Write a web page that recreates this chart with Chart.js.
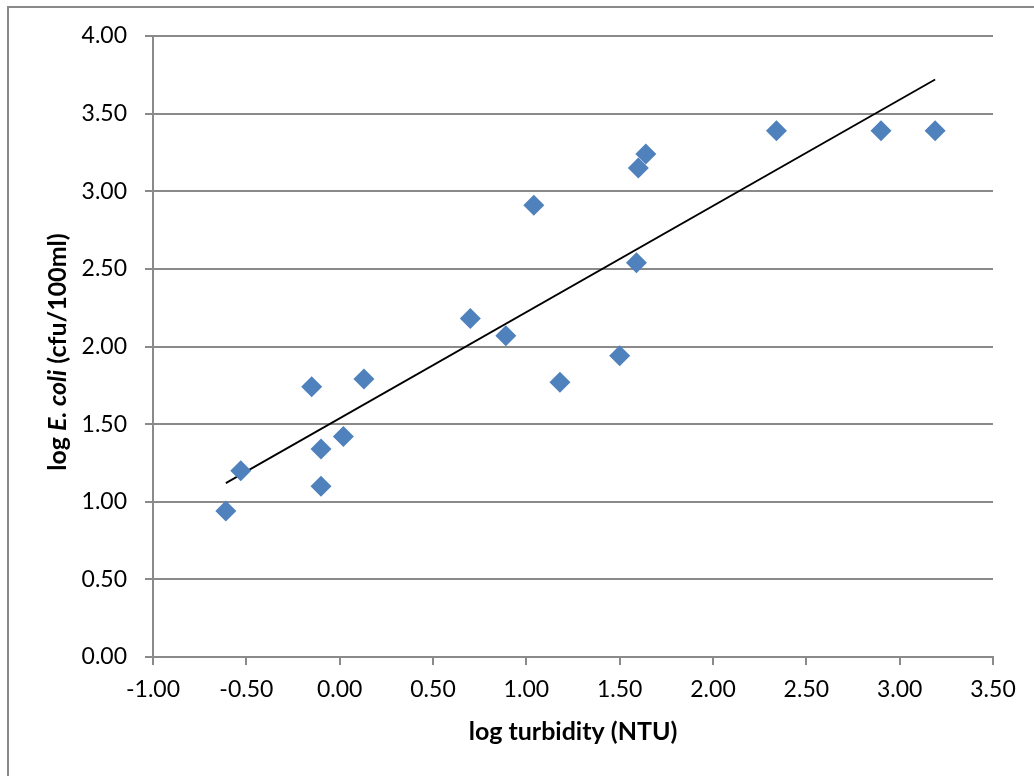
<!DOCTYPE html>
<html>
<head>
<meta charset="utf-8">
<script src="https://cdn.jsdelivr.net/npm/chart.js@4/dist/chart.umd.min.js"></script>
<style>
  html, body { margin: 0; padding: 0; background: #fff; }
  #wrap { position: relative; width: 1034px; height: 776px; overflow: hidden; }
  #frame { position: absolute; left: 7px; top: 6px; width: 1100px; height: 900px;
           border: 2px solid #8a8a8a; box-sizing: border-box; }
  canvas { position: absolute; left: 0; top: 0; }
</style>
</head>
<body>
<div id="wrap">
  <div id="frame"></div>
  <canvas id="chart" width="1034" height="776"></canvas>
</div>
<script>
// log turbidity (NTU) vs log E. coli (cfu/100ml)
const turbidity = [-0.61, -0.53, -0.15, -0.10, -0.10, 0.02, 0.13, 0.70, 0.89, 1.04,
  1.18, 1.50, 1.59, 1.60, 1.64, 2.34, 2.90, 3.19];
const eColi = [0.94, 1.20, 1.74, 1.34, 1.10, 1.42, 1.79, 2.18, 2.07, 2.91,
  1.77, 1.94, 2.54, 3.15, 3.24, 3.39, 3.39, 3.39];

// linear trend line, end points
const trendX = [-0.61, 3.19];
const trendY = [1.12, 3.72];

const xTicks = [-1.0, -0.5, 0.0, 0.5, 1.0, 1.5, 2.0, 2.5, 3.0, 3.5];
const yTicks = [0.0, 0.5, 1.0, 1.5, 2.0, 2.5, 3.0, 3.5, 4.0];

const gridGray = '#8a8a8a';
const fontFamily = 'Lato, "Open Sans", sans-serif';

const points = turbidity.map((x, i) => ({ x, y: eColi[i] }));
const trend = trendX.map((x, i) => ({ x, y: trendY[i] }));

// axis titles drawn by hand so "E. coli" can be italic
const axisTitles = {
  id: 'axisTitles',
  afterDraw(chart) {
    const { ctx, chartArea } = chart;
    ctx.save();
    ctx.fillStyle = '#000';
    ctx.textBaseline = 'alphabetic';

    ctx.font = `bold 25px ${fontFamily}`;
    ctx.textAlign = 'center';
    ctx.fillText('log turbidity (NTU)', (chartArea.left + chartArea.right) / 2, 740);

    const parts = [
      ['log ', `bold 25px ${fontFamily}`],
      ['E. coli', `italic bold 25px ${fontFamily}`],
      [' (cfu/100ml)', `bold 25px ${fontFamily}`],
    ];
    let total = 0;
    parts.forEach(([t, f]) => { ctx.font = f; total += ctx.measureText(t).width; });
    ctx.translate(66, 352);
    ctx.rotate(-Math.PI / 2);
    ctx.textAlign = 'left';
    let x = -total / 2;
    parts.forEach(([t, f]) => {
      ctx.font = f;
      ctx.fillText(t, x, 0);
      x += ctx.measureText(t).width;
    });
    ctx.restore();
  },
};

new Chart(document.getElementById('chart'), {
  type: 'scatter',
  data: {
    datasets: [
      {
        label: 'E. coli',
        data: points,
        pointStyle: 'rectRot',
        pointRadius: 10.5,
        pointHoverRadius: 10.5,
        backgroundColor: '#4f81bd',
        borderColor: '#4f81bd',
        borderWidth: 0,
      },
      {
        label: 'Linear',
        type: 'line',
        data: trend,
        borderColor: '#000',
        borderWidth: 1.8,
        pointRadius: 0,
        fill: false,
      },
    ],
  },
  options: {
    responsive: false,
    animation: false,
    layout: { padding: { top: 36, right: 41, left: 0, bottom: 0 } },
    plugins: {
      legend: { display: false },
      tooltip: { enabled: false },
    },
    scales: {
      x: {
        type: 'linear',
        min: -1,
        max: 3.5,
        afterBuildTicks: (axis) => { axis.ticks = xTicks.map((v) => ({ value: v })); },
        afterFit: (axis) => { axis.height = 119; },
        grid: { drawOnChartArea: false, color: gridGray, lineWidth: 2, tickLength: 8 },
        border: { color: gridGray, width: 2 },
        ticks: {
          color: '#000',
          padding: 11,
          font: { family: fontFamily, size: 23 },
          callback: (v) => Number(v).toFixed(2),
        },
      },
      y: {
        type: 'linear',
        min: 0,
        max: 4,
        afterBuildTicks: (axis) => { axis.ticks = yTicks.map((v) => ({ value: v })); },
        afterFit: (axis) => { axis.width = 153; },
        grid: { color: gridGray, lineWidth: 2, tickLength: 8 },
        border: { color: gridGray, width: 2 },
        ticks: {
          color: '#000',
          padding: 18,
          font: { family: fontFamily, size: 23 },
          callback: (v) => Number(v).toFixed(2),
        },
      },
    },
  },
  plugins: [axisTitles],
});
</script>
</body>
</html>
